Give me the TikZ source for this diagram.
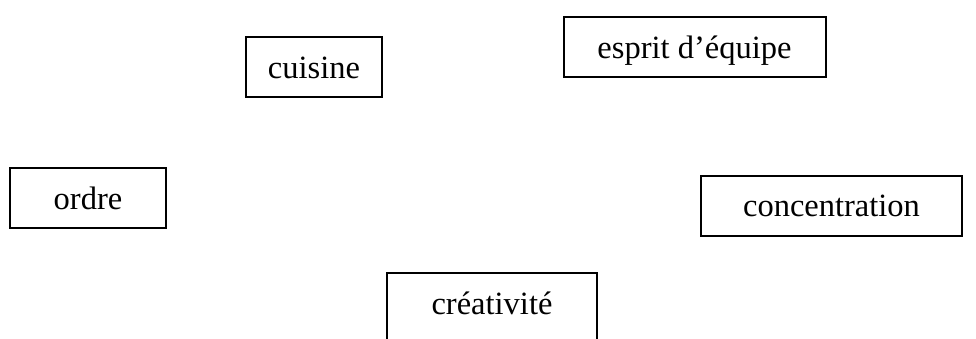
\documentclass[tikz,border=0pt]{standalone}
\usepackage{fontspec}
\setmainfont{Liberation Serif}
\usetikzlibrary{positioning}

\begin{document}
\begin{tikzpicture}[
    x=1pt, y=-1pt,
    box/.style={rectangle, draw, line width=2pt, inner xsep=0pt, inner ysep=15pt,
        text height=26pt, text depth=4pt, text centered, font=\fontsize{32.5}{38}\selectfont}
]

% Frame
\path[use as bounding box, clip] (0,0) rectangle (976,338);

% Top row
\node[box, minimum width=136pt] (cuisine) at (314,67) {cuisine};
\node[box, minimum width=262pt] (esprit) at (694.5,47) {esprit d’équipe};

% Middle row
\node[box, minimum width=156pt] (ordre) at (88,198) {ordre};
\node[box, minimum width=261pt] (concentration) at (831.5,205.5) {concentration};

% Bottom (runs off the page)
\node[box, minimum width=210pt, text depth=44pt, anchor=north] (creativite) at (492,272) {créativité};

\end{tikzpicture}
\end{document}
